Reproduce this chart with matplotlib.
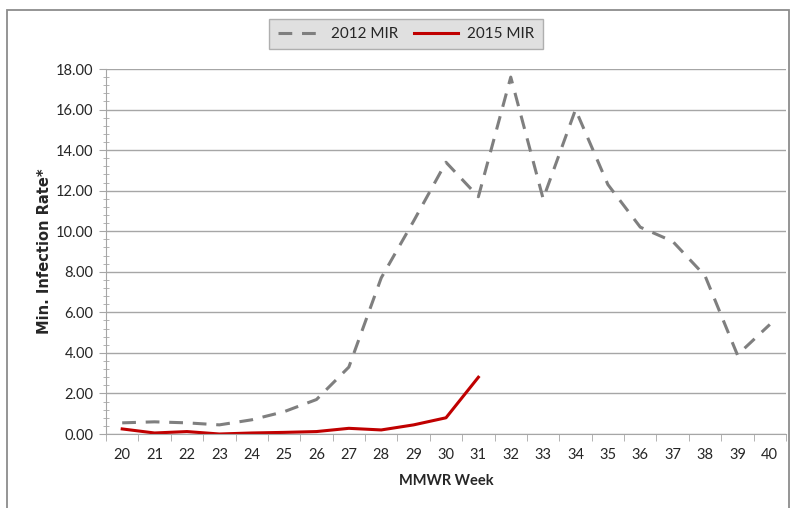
import numpy as np
import matplotlib
matplotlib.use("Agg")
import matplotlib.pyplot as plt
from matplotlib.patches import Rectangle
from matplotlib.ticker import MultipleLocator

plt.rcParams['font.family'] = ['Lato', 'DejaVu Sans']

weeks = [str(w) for w in range(20, 41)]
mir_2012 = [0.55, 0.6, 0.55, 0.45, 0.7, 1.1, 1.7, 3.3, 7.7, 10.5, 13.4,
            11.7, 17.6, 11.6, 16.0, 12.3, 10.2, 9.5, 7.8, 3.9, 5.4]
mir_2015 = [0.25, 0.05, 0.12, 0.0, 0.05, 0.08, 0.12, 0.28, 0.2, 0.45, 0.8, 2.8]

W, H = 794, 508
fig = plt.figure(figsize=(W / 100, H / 100), dpi=100)
ax = fig.add_axes([106 / W, 1 - 434 / H, (786 - 106) / W, (434 - 69) / H])

x = np.arange(len(weeks))
l1, = ax.plot(x, mir_2012, color='#7f7f7f', lw=2.2, dashes=(4.5, 3.2), label='2012 MIR')
l2, = ax.plot(x[:len(mir_2015)], mir_2015, color='#c00000', lw=2.2, label='2015 MIR')

ax.set_xlim(-0.5, len(weeks) - 0.5)
ax.set_ylim(0, 18)
ax.yaxis.set_major_locator(MultipleLocator(2))
ax.yaxis.set_minor_locator(MultipleLocator(0.4))
ax.set_yticklabels([f'{v:.2f}' for v in ax.get_yticks()])
ax.grid(axis='y', color='#a6a6a6', lw=1)
ax.set_axisbelow(True)

ax.set_xticks(x)
ax.set_xticklabels(weeks)
ax.set_xticks(np.arange(-0.5, len(weeks)), minor=True)
ax.tick_params(axis='x', which='major', length=0, pad=10, labelsize=10.5, labelcolor='#262626')
ax.tick_params(axis='x', which='minor', length=5, color='#a6a6a6', direction='out')
ax.tick_params(axis='y', which='major', length=5, color='#a6a6a6', direction='out',
               labelsize=10.5, labelcolor='#262626', pad=4)
ax.tick_params(axis='y', which='minor', length=4, color='#a6a6a6', direction='inout')

for s in ['top', 'right']:
    ax.spines[s].set_visible(False)
for s in ['left', 'bottom']:
    ax.spines[s].set_color('#a6a6a6')

ax.set_xlabel('MMWR Week', fontsize=10.5, fontweight='bold', color='#262626', labelpad=9)
ax.set_ylabel('Min. Infection Rate*', fontsize=10.5, fontweight='bold', color='#262626',
              labelpad=3, family='DejaVu Sans')

leg = fig.legend(handles=[l1, l2], loc='center', bbox_to_anchor=(406 / W, 1 - 34 / H),
                 ncol=2, fontsize=11, frameon=True, fancybox=False,
                 handlelength=2.9, handletextpad=0.6, columnspacing=1.0, borderpad=0.55)
leg.get_frame().set_facecolor('#d9d9d9')
leg.get_frame().set_edgecolor('#a0a0a0')
for t in leg.get_texts():
    t.set_color('#262626')

fig.patches.append(Rectangle((7 / W, -0.05), (789 - 7) / W, 1 - 10 / H + 0.05,
                             transform=fig.transFigure, fill=False,
                             edgecolor='#8c8c8c', lw=1.3))

fig.savefig('out.png', dpi=100)
